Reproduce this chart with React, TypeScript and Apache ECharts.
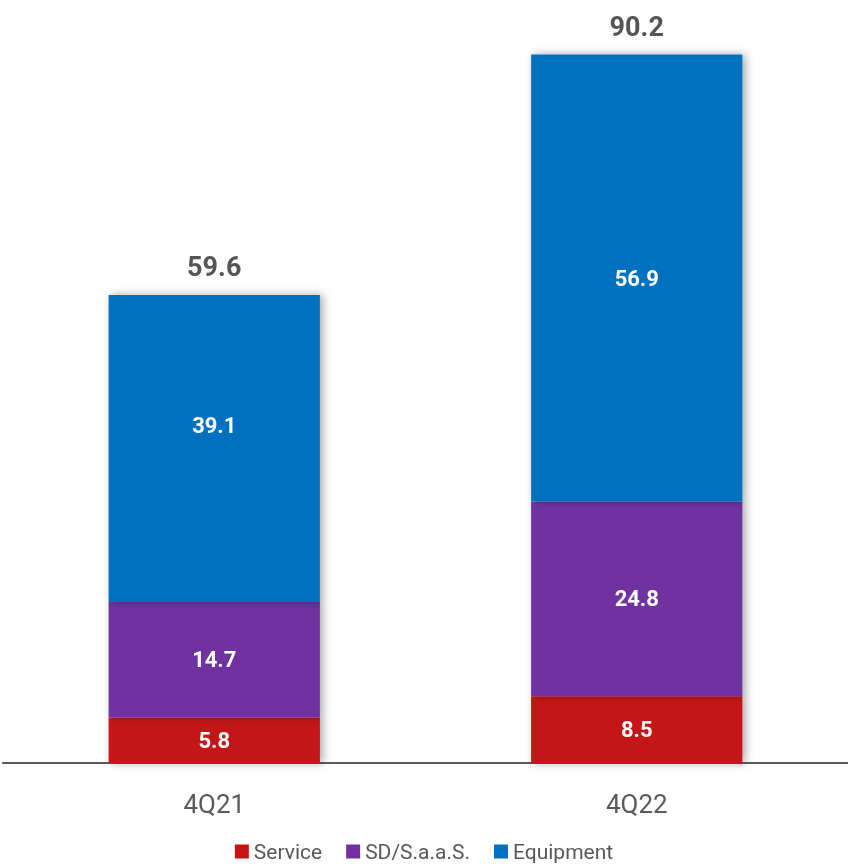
import React, { useEffect, useRef } from "react";
import * as echarts from "echarts";

const categories = ["4Q21", "4Q22"];
const service = [5.8, 8.5];
const sdSaas = [14.7, 24.8];
const equipment = [39.1, 56.9];
const totals = [59.6, 90.2];

const seriesNames = ["Service", "SD/S.a.a.S.", "Equipment"];
const colors = ["#C41414", "#7030A0", "#0070C0"];

export default function App() {
  const ref = useRef<HTMLDivElement>(null);
  useEffect(() => {
    if (!ref.current) return;
    const chart = echarts.init(ref.current, null, { renderer: "svg" });
    const font = "Roboto, 'Noto Sans', sans-serif";
    const segLabel = {
      show: true,
      position: "inside",
      color: "#ffffff",
      fontSize: 22,
      fontWeight: "bold",
      fontFamily: font,
    };
    const shadow = {
      shadowBlur: 8,
      shadowColor: "rgba(0,0,0,0.35)",
      shadowOffsetX: 3,
      shadowOffsetY: 0,
    };
    const data = [service, sdSaas, equipment];
    chart.setOption({
      animation: false,
      textStyle: { fontFamily: font },
      grid: { left: 3, right: 0, top: 9, bottom: 101, containLabel: false },
      legend: {
        bottom: -3,
        left: "center",
        data: seriesNames,
        icon: "rect",
        itemWidth: 14,
        itemHeight: 14,
        itemGap: 24,
        textStyle: { fontSize: 21, color: "#595959", fontFamily: font },
      },
      xAxis: {
        type: "category",
        data: categories,
        axisLine: { lineStyle: { color: "#595959", width: 2 } },
        axisTick: { show: false },
        axisLabel: { fontSize: 26, color: "#595959", margin: 28, fontFamily: font },
      },
      yAxis: {
        type: "value",
        min: 0,
        max: 96,
        show: false,
        splitLine: { show: false },
      },
      series: [
        ...seriesNames.map((name, i) => ({
          name,
          type: "bar",
          stack: "total",
          barWidth: "50%",
          data: data[i].map((v, j) =>
            i === 2 && j === 0 ? { value: v, label: { offset: [0, -23] } } : v
          ),
          itemStyle: { color: colors[i], ...shadow },
          label: segLabel,
        })),
        {
          name: "Total",
          type: "bar",
          barWidth: "50%",
          barGap: "-100%",
          z: 1,
          data: totals,
          itemStyle: { color: "rgba(0,0,0,0)" },
          label: {
            show: true,
            position: "top",
            distance: 14,
            color: "#555555",
            fontSize: 27,
            fontWeight: "bold",
            fontFamily: font,
          },
          tooltip: { show: false },
          silent: true,
        },
      ],
    });
    return () => chart.dispose();
  }, []);
  return (
    <div
      ref={ref}
      style={{ position: "fixed", left: 0, top: 0, width: 848, height: 864 }}
    />
  );
}
